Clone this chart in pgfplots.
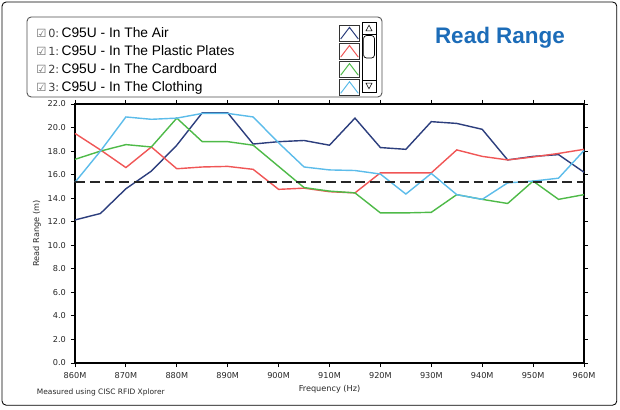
\documentclass[border=0pt]{standalone}
\usepackage{pgfplots}
\pgfplotsset{compat=1.18}
\usepackage{fontspec}
\setmainfont{Liberation Sans}
\newfontfamily\dejavu{DejaVu Sans}

\definecolor{airc}{RGB}{44,62,125}
\definecolor{plasc}{RGB}{240,86,86}
\definecolor{cardc}{RGB}{78,186,72}
\definecolor{clothc}{RGB}{92,188,234}
\definecolor{titlec}{RGB}{28,108,184}

\newcommand{\chk}[1]{{\dejavu\fontsize{8}{10}\selectfont\textcolor{black!60}{☑}\,\textcolor{black!75}{#1:}}\,}

% 1 px of the reference = 0.025cm
\begin{document}
\begin{tikzpicture}
\useasboundingbox (0,0) rectangle (15.5cm,10.25cm);
\draw[rounded corners=3pt, line width=0.6pt] (0.05cm,0.12cm) rectangle (15.42cm,10.2cm);
% legend frame
\draw[rounded corners=3pt, line width=0.6pt, black!70] (0.675cm,7.825cm) rectangle (9.55cm,9.825cm);

\begin{axis}[
    scale only axis,
    width=12.725cm, height=6.475cm,
    at={(1.875cm,1.175cm)}, anchor=south west,
    xmin=860, xmax=960, ymin=0, ymax=22,
    xtick={860,870,...,960},
    xticklabels={860M,870M,880M,890M,900M,910M,920M,930M,940M,950M,960M},
    ytick={0,2,...,22},
    yticklabel style={/pgf/number format/.cd, fixed, fixed zerofill, precision=1},
    /pgf/number format/assume math mode=true,
    tick label style={font=\dejavu\fontsize{5.8}{7}\selectfont, text=black!85},
    tick align=outside, tick style={black, line width=0.6pt},
    major tick length=3pt,
    axis line style={line width=0.9pt},
    xlabel={Frequency (Hz)}, ylabel={Read Range (m)},
    label style={font=\dejavu\fontsize{5.8}{7}\selectfont, text=black!85},
    xlabel style={yshift=2pt},
    ylabel style={yshift=-2pt},
    clip=false,
    legend plot pos=right,
    legend cell align=left,
    legend style={draw=none, fill=none, at={(-0.0864,1.3166)}, anchor=north west,
        font=\fontsize{9.8}{12}\selectfont, row sep=1.1pt,
        nodes={inner sep=0.6pt}},
    legend image code/.code={
        \draw[black!80, line width=0.4pt, fill=white] (0cm,-0.2cm) rectangle (0.5cm,0.2cm);
        \draw[#1, line width=0.7pt] (0.03cm,-0.14cm) -- (0.25cm,0.15cm) -- (0.47cm,-0.14cm);
    },
    every axis plot/.append style={line width=1pt},
]
\addplot[airc] coordinates {
(860,12.15) (865,12.7) (870,14.8) (875,16.3) (880,18.5) (885,21.25) (890,21.25)
(895,18.6) (900,18.8) (905,18.9) (910,18.5) (915,20.8) (920,18.3) (925,18.15)
(930,20.5) (935,20.35) (940,19.85) (945,17.25) (950,17.55) (955,17.7) (960,16.2)};
\addlegendentry{\makebox[7.55cm][l]{\chk{0}C95U - In The Air}}
\addplot[plasc] coordinates {
(860,19.5) (865,18.1) (870,16.6) (875,18.35) (880,16.5) (885,16.65) (890,16.7)
(895,16.45) (900,14.75) (905,14.85) (910,14.55) (915,14.45) (920,16.15) (925,16.15)
(930,16.15) (935,18.1) (940,17.55) (945,17.25) (950,17.5) (955,17.8) (960,18.15)};
\addlegendentry{\makebox[7.55cm][l]{\chk{1}C95U - In The Plastic Plates}}
\addplot[cardc] coordinates {
(860,17.3) (865,18.0) (870,18.55) (875,18.35) (880,20.8) (885,18.8) (890,18.8)
(895,18.5) (900,16.7) (905,14.9) (910,14.6) (915,14.45) (920,12.75) (925,12.75)
(930,12.8) (935,14.3) (940,13.9) (945,13.55) (950,15.45) (955,13.9) (960,14.3)};
\addlegendentry{\makebox[7.55cm][l]{\chk{2}C95U - In The Cardboard}}
\addplot[clothc] coordinates {
(860,15.35) (865,18.0) (870,20.9) (875,20.7) (880,20.8) (885,21.2) (890,21.2)
(895,20.9) (900,18.7) (905,16.65) (910,16.4) (915,16.35) (920,16.05) (925,14.35)
(930,16.1) (935,14.3) (940,13.9) (945,15.3) (950,15.45) (955,15.7) (960,18.05)};
\addlegendentry{\makebox[7.55cm][l]{\chk{3}C95U - In The Clothing}}
\addplot[black!85, line width=0.9pt, dash pattern=on 7pt off 3.5pt, forget plot] coordinates {(860,15.38) (960,15.38)};
\end{axis}

% scroll bar of the legend
\draw[line width=0.5pt] (9.05cm,7.95cm) rectangle (9.4cm,9.7cm);
\draw[line width=0.5pt] (9.05cm,9.4cm) rectangle (9.4cm,9.7cm);
\draw[line width=0.5pt] (9.05cm,7.95cm) rectangle (9.4cm,8.25cm);
\draw[line width=0.4pt] (9.15cm,9.48cm) -- (9.3cm,9.48cm) -- (9.225cm,9.62cm) -- cycle;
\draw[line width=0.4pt] (9.15cm,8.17cm) -- (9.3cm,8.17cm) -- (9.225cm,8.03cm) -- cycle;
\draw[line width=0.5pt, rounded corners=2pt] (9.09cm,8.8cm) rectangle (9.36cm,9.36cm);

\node[font=\bfseries\fontsize{16}{19}\selectfont, text=titlec] at (12.5cm,9.3cm) {Read Range};
\node[anchor=west, font=\dejavu\fontsize{5.3}{6}\selectfont, text=black!85] at (0.8cm,0.45cm) {Measured using CISC RFID Xplorer};
\end{tikzpicture}
\end{document}
